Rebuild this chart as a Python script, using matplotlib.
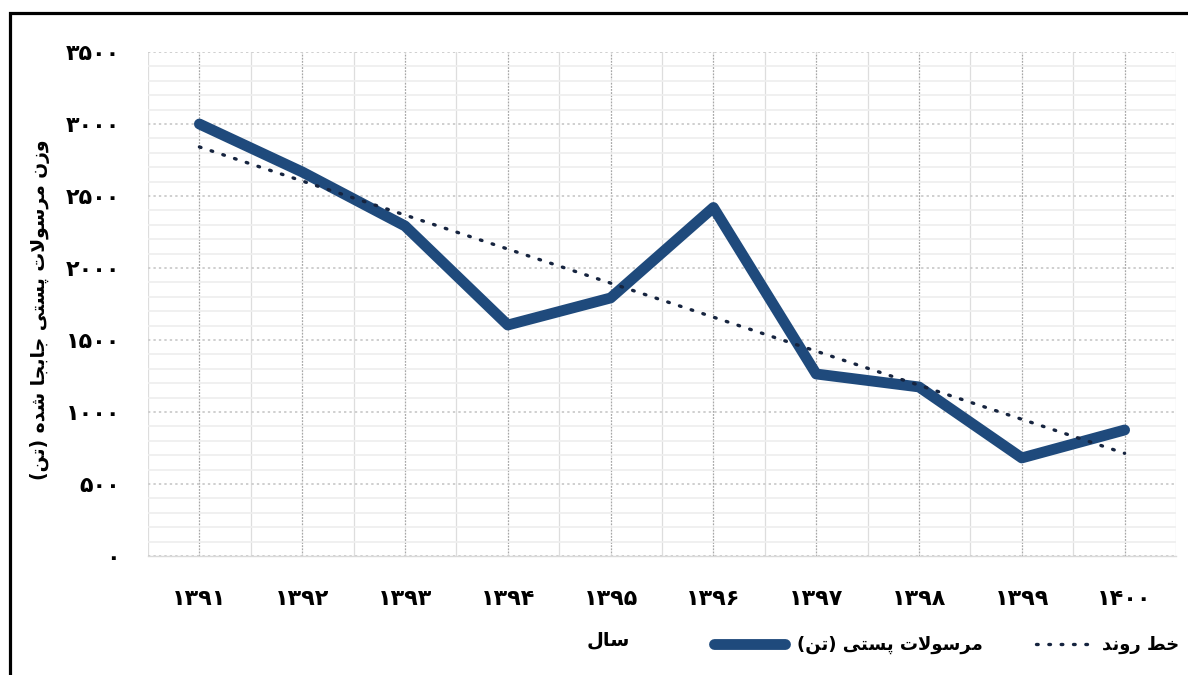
import numpy as np
import matplotlib.pyplot as plt
from matplotlib.lines import Line2D
from matplotlib.legend_handler import HandlerLine2D
from matplotlib.patches import Rectangle

# داده‌ها
years = [1391, 1392, 1393, 1394, 1395, 1396, 1397, 1398, 1399, 1400]
weights = [3000, 2667, 2292, 1604, 1792, 2420, 1264, 1174, 681, 875]
y_ticks = [0, 500, 1000, 1500, 2000, 2500, 3000, 3500]

y_title = "وزن مرسولات پستی جابجا شده (تن)"
x_title = "سال"
series_name = "مرسولات پستی (تن)"
trend_name = "خط روند"

fa_digits = str.maketrans("0123456789", "۰۱۲۳۴۵۶۷۸۹")

# matplotlib حروف عربی را به هم نمی‌چسباند، پس شکل‌های نمایشی را دستی می‌سازیم
FORMS = {
    "ا": ("\uFE8D", "\uFE8E"),
    "ب": ("\uFE8F", "\uFE90", "\uFE91", "\uFE92"),
    "ت": ("\uFE95", "\uFE96", "\uFE97", "\uFE98"),
    "ج": ("\uFE9D", "\uFE9E", "\uFE9F", "\uFEA0"),
    "خ": ("\uFEA5", "\uFEA6", "\uFEA7", "\uFEA8"),
    "د": ("\uFEA9", "\uFEAA"),
    "ر": ("\uFEAD", "\uFEAE"),
    "ز": ("\uFEAF", "\uFEB0"),
    "س": ("\uFEB1", "\uFEB2", "\uFEB3", "\uFEB4"),
    "ش": ("\uFEB5", "\uFEB6", "\uFEB7", "\uFEB8"),
    "ط": ("\uFEC1", "\uFEC2", "\uFEC3", "\uFEC4"),
    "ل": ("\uFEDD", "\uFEDE", "\uFEDF", "\uFEE0"),
    "م": ("\uFEE1", "\uFEE2", "\uFEE3", "\uFEE4"),
    "ن": ("\uFEE5", "\uFEE6", "\uFEE7", "\uFEE8"),
    "ه": ("\uFEE9", "\uFEEA", "\uFEEB", "\uFEEC"),
    "و": ("\uFEED", "\uFEEE"),
    "پ": ("\uFB56", "\uFB57", "\uFB58", "\uFB59"),
    "ی": ("\uFBFC", "\uFBFD", "\uFBFE", "\uFBFF"),
}


def shape(text):
    out = []
    n = len(text)
    joined_prev = False
    i = 0
    while i < n:
        c = text[i]
        if c not in FORMS:
            out.append(c)
            joined_prev = False
            i += 1
            continue
        if c == "ل" and i + 1 < n and text[i + 1] == "ا":
            out.append("\uFEFC" if joined_prev else "\uFEFB")
            joined_prev = False
            i += 2
            continue
        f = FORMS[c]
        nxt = text[i + 1] if i + 1 < n else ""
        to_next = len(f) == 4 and nxt in FORMS
        if joined_prev and to_next:
            g = f[3]
        elif joined_prev:
            g = f[1]
        elif to_next:
            g = f[2]
        else:
            g = f[0]
        out.append(g)
        joined_prev = to_next
        i += 1
    vis = "".join(reversed(out))
    return vis.translate({ord("("): ")", ord(")"): "("})


plt.rcParams["font.family"] = ["DejaVu Sans"]
plt.rcParams["font.weight"] = "bold"

blue = "#1F4A7C"
navy = "#16243F"
trend_style = (0, (0.5, 3.2))

fig = plt.figure(figsize=(11.88, 6.75), dpi=100)
ax = fig.add_axes([148 / 1188, 1 - 556 / 675, 1028 / 1188, 504 / 675])

x = np.arange(len(years))
ax.plot(x, weights, color=blue, lw=7.8, solid_capstyle="round",
        solid_joinstyle="round", zorder=4)

# خط روند خطی
k, b = np.polyfit(x, weights, 1)
ax.plot(x, k * x + b, color=navy, lw=2.4, linestyle=trend_style,
        dash_capstyle="round", zorder=5)

ax.set_xlim(-0.5, len(years) - 0.5)
ax.set_ylim(0, 3500)
ax.set_yticks(y_ticks)
ax.set_yticklabels([str(v).translate(fa_digits) for v in y_ticks])
ax.set_yticks(np.arange(0, 3501, 100), minor=True)
ax.set_xticks(x)
ax.set_xticklabels([str(v).translate(fa_digits) for v in years])
ax.set_xticks(np.arange(-0.5, len(years), 1.0), minor=True)

ax.grid(which="major", axis="y", color="#CFCFCF", lw=1.4, linestyle=(0, (1.2, 1.6)))
ax.grid(which="minor", axis="y", color="#EEEEEE", lw=1.2)
ax.grid(which="major", axis="x", color="#A8A8A8", lw=0.9, linestyle=(0, (1.5, 1.0)))
ax.grid(which="minor", axis="x", color="#DDDDDD", lw=0.9)
ax.set_axisbelow(True)

for s in ["top", "right", "left"]:
    ax.spines[s].set_visible(False)
ax.spines["bottom"].set_color("#D9D9D9")
ax.spines["bottom"].set_linewidth(1.0)

ax.tick_params(which="both", length=0)
ax.tick_params(axis="y", pad=20, labelsize=16)
ax.tick_params(axis="x", pad=24, labelsize=16)

fig.text(40 / 1188, 1 - 310 / 675, shape(y_title), rotation=90,
         ha="center", va="center", fontsize=13.5, fontweight="bold")
fig.text(608 / 1188, 1 - 640 / 675, shape(x_title), ha="center",
         va="center", fontsize=14, fontweight="bold")

handles = [
    Line2D([], [], color=blue, lw=7.8, solid_capstyle="round"),
    Line2D([], [], color=navy, lw=2.4, linestyle=trend_style,
           dash_capstyle="round"),
]
fig.legend(handles, [shape(series_name), shape(trend_name)],
           loc="center", bbox_to_anchor=(947 / 1188, 1 - 645 / 675),
           ncol=2, frameon=False, fontsize=13, handlelength=3.9,
           columnspacing=2.0, handletextpad=0.7,
           handler_map={handles[1]: HandlerLine2D(xpad=0.9)})

# قاب دور نمودار
fig.patches.append(Rectangle((9.5 / 1188, -0.1), 1.2, 1 - 12.5 / 675 + 0.1,
                             transform=fig.transFigure, fill=False,
                             lw=2.3, ec="black"))

fig.savefig("out.png", dpi=100, facecolor="white")
